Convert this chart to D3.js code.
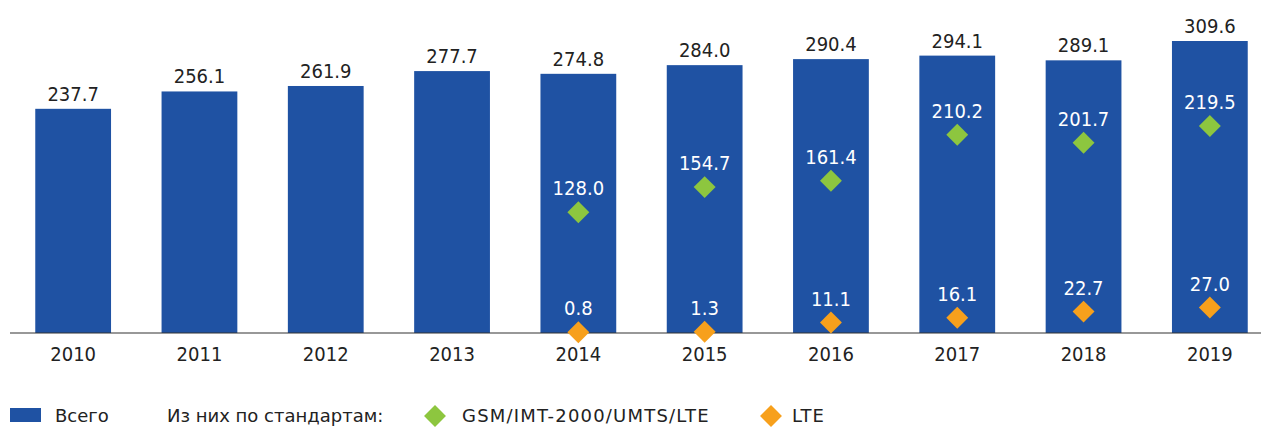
<!DOCTYPE html>
<html>
<head>
<meta charset="utf-8">
<script src="https://cdn.jsdelivr.net/npm/d3@7"></script>
<style>
  body { margin: 0; background: #fff; }
  svg { display: block; font-family: "DejaVu Sans Condensed", "DejaVu Sans", sans-serif; }
</style>
</head>
<body>
<div id="chart"></div>
<script>
const years = ["2010", "2011", "2012", "2013", "2014", "2015", "2016", "2017", "2018", "2019"];
const total = [237.7, 256.1, 261.9, 277.7, 274.8, 284.0, 290.4, 294.1, 289.1, 309.6];
const gsm = [null, null, null, null, 128.0, 154.7, 161.4, 210.2, 201.7, 219.5];
const lte = [null, null, null, null, 0.8, 1.3, 11.1, 16.1, 22.7, 27.0];

const blue = "#1f52a3", green = "#8dc63f", orange = "#f7a01c";

const W = 1261, H = 427;
const svg = d3.select("#chart").append("svg").attr("width", W).attr("height", H);

const x = d3.scaleBand().domain(years).range([10, 1273]).paddingInner(0.4).paddingOuter(0.2);
const y = d3.scaleLinear().domain([0, 309.6]).range([333, 41]);

// bars
svg.selectAll(".bar").data(years).join("rect")
  .attr("x", d => x(d)).attr("width", x.bandwidth())
  .attr("y", (d, i) => y(total[i])).attr("height", (d, i) => y(0) - y(total[i]))
  .attr("fill", blue);

// axis
const axis = svg.append("g").attr("transform", `translate(0,${y(0)})`)
  .call(d3.axisBottom(x).tickSize(0).tickPadding(14));
axis.select(".domain").attr("d", "M10,0H1261").attr("stroke", "#333").attr("stroke-width", 1.2);
axis.selectAll("text").attr("font-size", 20).attr("fill", "#222")
  .attr("font-family", "DejaVu Sans Condensed, DejaVu Sans, sans-serif");

// total labels
svg.selectAll(".tl").data(years).join("text")
  .attr("x", d => x(d) + x.bandwidth() / 2)
  .attr("y", (d, i) => y(total[i]) - 8)
  .attr("text-anchor", "middle").attr("font-size", 20).attr("fill", "#222")
  .text((d, i) => total[i].toFixed(1));

const diamond = d3.symbol().type(d3.symbolSquare).size(240);

function markers(vals, color) {
  const pts = years.map((d, i) => ({ year: d, v: vals[i] })).filter(p => p.v !== null);
  svg.selectAll(null).data(pts).join("path")
    .attr("d", diamond)
    .attr("transform", p => `translate(${x(p.year) + x.bandwidth() / 2},${y(p.v)}) rotate(45)`)
    .attr("fill", color);
  svg.selectAll(null).data(pts).join("text")
    .attr("x", p => x(p.year) + x.bandwidth() / 2)
    .attr("y", p => y(p.v) - 17)
    .attr("text-anchor", "middle").attr("font-size", 20).attr("fill", "#fff")
    .text(p => p.v.toFixed(1));
}
markers(gsm, green);
markers(lte, orange);

// legend
const lg = svg.append("g").attr("font-size", 18).attr("fill", "#222")
  .attr("font-family", "DejaVu Sans, sans-serif");
lg.append("rect").attr("x", 10).attr("y", 408).attr("width", 31).attr("height", 14).attr("fill", blue);
lg.append("text").attr("x", 55).attr("y", 422).text("Всего");
lg.append("text").attr("x", 167).attr("y", 422).text("Из них по стандартам:");
lg.append("path").attr("d", diamond).attr("transform", "translate(435,416) rotate(45)").attr("fill", green);
lg.append("text").attr("x", 462).attr("y", 422).attr("letter-spacing", 1.2).text("GSM/IMT-2000/UMTS/LTE");
lg.append("path").attr("d", diamond).attr("transform", "translate(771,416) rotate(45)").attr("fill", orange);
lg.append("text").attr("x", 792).attr("y", 422).attr("letter-spacing", 1).text("LTE");
</script>
</body>
</html>
